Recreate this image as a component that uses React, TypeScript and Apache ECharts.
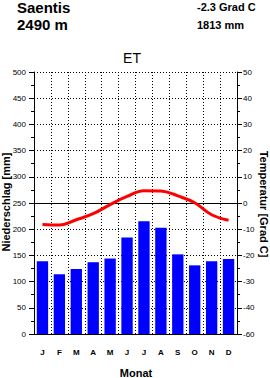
import React, { useEffect, useRef } from "react";
import * as echarts from "echarts";

const months = ["J", "F", "M", "A", "M", "J", "J", "A", "S", "O", "N", "D"];
const precipitation = [139, 114, 124, 137, 144, 184, 215, 203, 152, 131, 139, 143];
const temperature = [-8.2, -8.4, -6.4, -4.1, -0.6, 2.5, 4.7, 4.6, 2.7, 0.1, -4.5, -6.6];
const tempTicks = [50, 40, 30, 20, 10, 0, -10, -20, -30, -40, -50];
const tempTickLabels = ["50", "40", "30", "20", "10", "0", "-10", "-20", "-30", "-40", "-60"];

const stationName = "Saentis";
const stationHeight = "2490 m";
const meanTemp = "-2.3 Grad C";
const totalPrecip = "1813 mm";
const climateClass = "ET";

const FONT = "'Liberation Sans', Arial, Helvetica, sans-serif";

export default function App() {
  const ref = useRef<HTMLDivElement>(null);
  useEffect(() => {
    if (!ref.current) return;
    const chart = echarts.init(ref.current, undefined, { renderer: "svg" });
    const dotted = { color: "#000", width: 1, type: [1, 2] as any };
    chart.setOption({
      animation: false,
      backgroundColor: "#fff",
      textStyle: { fontFamily: FONT },
      grid: { left: 34, right: 33, top: 72, bottom: 44, containLabel: false },
      graphic: [
        { type: "text", left: 17, top: 0, style: { text: stationName, font: `bold 15px ${FONT}`, fill: "#000" } },
        { type: "text", left: 17, top: 17, style: { text: stationHeight, font: `bold 15px ${FONT}`, fill: "#000" } },
        { type: "text", left: 197, top: 1, style: { text: meanTemp, font: `bold 11px ${FONT}`, fill: "#000" } },
        { type: "text", left: 197, top: 19, style: { text: totalPrecip, font: `bold 11px ${FONT}`, fill: "#000" } },
        { type: "text", x: 132, y: 58, style: { text: climateClass, font: `14px ${FONT}`, fill: "#000", align: "center", verticalAlign: "middle" } },
        { type: "text", x: 6, y: 202, rotation: Math.PI / 2, style: { text: "Niederschlag [mm]", font: `bold 11px ${FONT}`, fill: "#000", align: "center", verticalAlign: "middle" } },
        { type: "text", x: 264, y: 204, rotation: -Math.PI / 2, style: { text: "Temperatur [Grad C]", font: `bold 11px ${FONT}`, fill: "#000", align: "center", verticalAlign: "middle" } },
        { type: "text", x: 136, y: 373, style: { text: "Monat", font: `bold 11px ${FONT}`, fill: "#000", align: "center", verticalAlign: "middle" } },
      ],
      xAxis: {
        type: "category",
        data: months,
        boundaryGap: true,
        axisLine: { show: true, lineStyle: { color: "#000", width: 1 } },
        axisTick: { show: false },
        axisLabel: { color: "#000", fontSize: 8, fontWeight: "bold", margin: 14, fontFamily: FONT },
        splitLine: { show: true, lineStyle: dotted },
      },
      yAxis: [
        {
          type: "value",
          min: 0,
          max: 500,
          interval: 50,
          position: "left",
          axisLine: { show: true, lineStyle: { color: "#000", width: 1 } },
          axisTick: { show: true, length: 5, lineStyle: { color: "#000" } },
          minorTick: { show: true, splitNumber: 2, length: 3, lineStyle: { color: "#000" } },
          axisLabel: { color: "#000", fontSize: 8, margin: 8, fontFamily: FONT },
          splitLine: { show: true, lineStyle: dotted },
        },
        {
          type: "value",
          min: -50,
          max: 50,
          interval: 10,
          position: "right",
          axisLine: { show: true, lineStyle: { color: "#000", width: 1 } },
          axisTick: { show: true, length: 5, lineStyle: { color: "#000" } },
          minorTick: { show: true, splitNumber: 2, length: 3, lineStyle: { color: "#000" } },
          axisLabel: {
            color: "#000",
            fontSize: 8,
            margin: 6,
            fontFamily: FONT,
            formatter: (v: number) => {
              const i = tempTicks.indexOf(v);
              return i >= 0 ? tempTickLabels[i] : String(v);
            },
          },
          splitLine: { show: false },
        },
      ],
      series: [
        {
          type: "bar",
          data: precipitation,
          yAxisIndex: 0,
          barCategoryGap: "33%",
          itemStyle: { color: "#0000ff" },
          markLine: {
            silent: true,
            symbol: "none",
            label: { show: false },
            lineStyle: { color: "#000", width: 1, type: "solid" },
            data: [{ yAxis: 250 }],
          },
        },
        {
          type: "line",
          data: temperature,
          yAxisIndex: 1,
          smooth: 0.4,
          showSymbol: false,
          symbol: "none",
          lineStyle: { color: "#ff0000", width: 3 },
          z: 5,
        },
      ],
    });
    return () => chart.dispose();
  }, []);
  return <div ref={ref} style={{ position: "fixed", left: 0, top: 0, width: 270, height: 378 }} />;
}
